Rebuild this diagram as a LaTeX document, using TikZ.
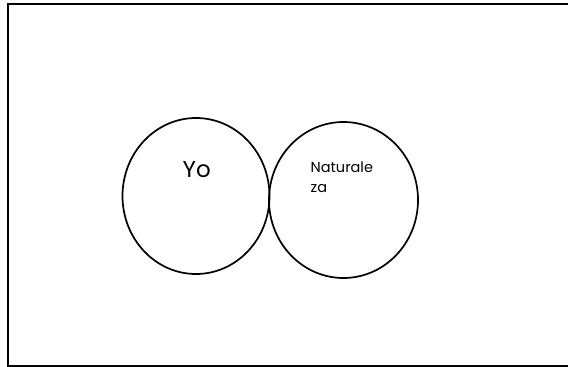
\documentclass[tikz,border=0pt]{standalone}
\usepackage{fontspec}
\setmainfont{Poppins}
\usetikzlibrary{shapes.geometric}
\begin{document}
\begin{tikzpicture}[x=1pt,y=-1pt,
  ring/.style={draw=black,line width=1.7pt,ellipse,inner sep=0pt},
  lbl/.style={anchor=base west,inner sep=0pt}]
\useasboundingbox (0,0) rectangle (568,367);
\draw[line width=2pt] (7.5,3.5) rectangle (575,366);
\node[ring,minimum width=147pt,minimum height=156pt] (yo) at (196,196) {};
\node[ring,minimum width=149pt,minimum height=156pt] (nat) at (343.5,200) {};
\node[lbl,font=\fontsize{23}{26}\selectfont] (tyo) at (182.5,177) {Yo};
\node[lbl,font=\fontsize{14.5}{20}\selectfont,align=left] (tnat) at (310.5,192.5) {Naturale\\za};
\end{tikzpicture}
\end{document}
